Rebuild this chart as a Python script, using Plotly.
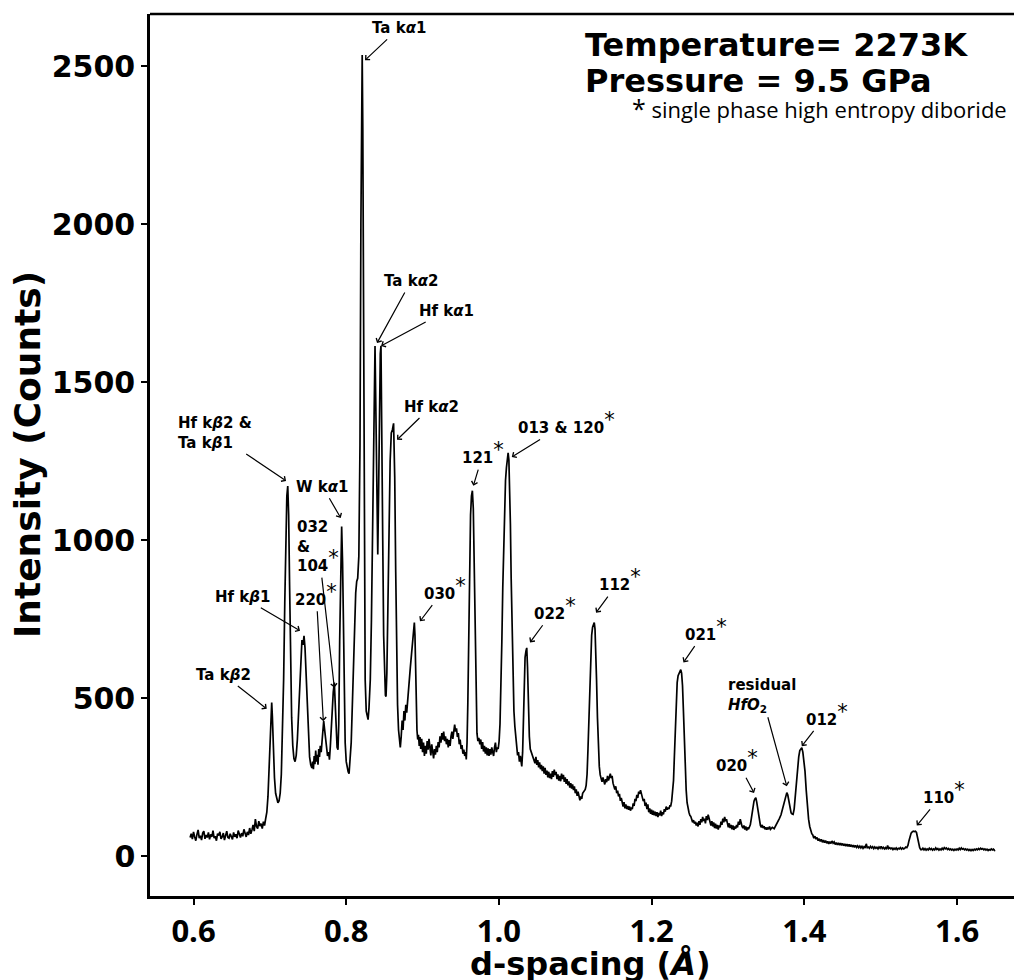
import plotly.graph_objects as go

# ---------------- data (d-spacing in Å, intensity in counts) ----------------
seg_low_baseline = [
    (0.5955, 60), (0.5970, 72), (0.5985, 55), (0.6000, 78), (0.6015, 62), (0.6030, 50), (0.6045, 70), (0.6060, 84),
    (0.6075, 58), (0.6090, 66), (0.6105, 52), (0.6120, 74), (0.6135, 80), (0.6150, 56), (0.6165, 68), (0.6180, 60),
    (0.6195, 76), (0.6210, 54), (0.6225, 70), (0.6240, 62), (0.6255, 82), (0.6270, 58), (0.6285, 64), (0.6300, 50),
    (0.6315, 72), (0.6330, 66), (0.6345, 78), (0.6360, 56), (0.6375, 62), (0.6390, 74), (0.6405, 52), (0.6420, 68),
    (0.6435, 80), (0.6450, 60), (0.6465, 58), (0.6480, 72), (0.6495, 64), (0.6510, 54), (0.6525, 76), (0.6540, 62),
    (0.6555, 70), (0.6570, 58), (0.6585, 82), (0.6600, 66), (0.6615, 60), (0.6630, 74), (0.6645, 64), (0.6660, 86),
    (0.6675, 70), (0.6690, 62), (0.6705, 78), (0.6720, 68), (0.6735, 90), (0.6750, 72), (0.6765, 84), (0.6780, 100),
    (0.6795, 80), (0.6810, 118), (0.6825, 95), (0.6840, 88), (0.6855, 112), (0.6870, 96), (0.6885, 104), (0.6900, 88),
    (0.6915, 110), (0.6930, 98), (0.6945, 120),
]
seg_kbeta = [
    (0.6960, 140), (0.6975, 190), (0.6990, 280), (0.7005, 390), (0.7015, 455), (0.7024, 487), (0.7033, 440), (0.7045, 340),
    (0.7060, 250), (0.7075, 200), (0.7090, 178), (0.7105, 170), (0.7120, 176), (0.7135, 200), (0.7150, 260), (0.7165, 380),
    (0.7180, 560), (0.7195, 800), (0.7210, 1020), (0.7222, 1140), (0.7234, 1172), (0.7246, 1080), (0.7258, 860), (0.7270, 620),
    (0.7285, 440), (0.7300, 350), (0.7315, 310), (0.7330, 300), (0.7345, 320), (0.7360, 370), (0.7375, 450), (0.7390, 560),
    (0.7405, 640), (0.7420, 685), (0.7435, 670), (0.7447, 698), (0.7460, 660), (0.7475, 570), (0.7490, 460), (0.7505, 370),
    (0.7520, 315), (0.7535, 290), (0.7550, 280), (0.7560, 300), (0.7570, 276), (0.7580, 318), (0.7590, 292), (0.7600, 335),
    (0.7610, 300), (0.7620, 322), (0.7630, 290), (0.7640, 340), (0.7650, 315), (0.7660, 350), (0.7672, 330), (0.7685, 370),
    (0.7695, 400), (0.7705, 428), (0.7715, 405), (0.7725, 380), (0.7740, 345), (0.7755, 318), (0.7770, 330),
]
seg_kalpha = [
    (0.7780, 306), (0.7792, 350), (0.7805, 420), (0.7818, 480), (0.7830, 520), (0.7844, 550), (0.7856, 470), (0.7868, 380),
    (0.7880, 345), (0.7892, 338), (0.7902, 420), (0.7914, 680), (0.7926, 920), (0.7940, 1044), (0.7952, 930), (0.7963, 700),
    (0.7974, 480), (0.7986, 360), (0.8000, 300), (0.8013, 280), (0.8025, 268), (0.8037, 262), (0.8050, 300), (0.8065, 360),
    (0.8080, 480), (0.8093, 600), (0.8108, 720), (0.8124, 834), (0.8137, 870), (0.8150, 880), (0.8165, 950), (0.8180, 1300),
    (0.8192, 2000), (0.8202, 2480), (0.8209, 2535), (0.8217, 2300), (0.8226, 1600), (0.8236, 900), (0.8248, 560), (0.8262, 460),
    (0.8276, 440), (0.8286, 433), (0.8298, 470), (0.8315, 560), (0.8330, 750), (0.8345, 1000), (0.8358, 1300), (0.8368, 1550),
    (0.8377, 1615), (0.8386, 1450), (0.8398, 1150), (0.8413, 955), (0.8424, 1150), (0.8436, 1450), (0.8446, 1590),
    (0.8455, 1615), (0.8466, 1400), (0.8478, 1000), (0.8490, 700), (0.8503, 560), (0.8513, 510), (0.8521, 506), (0.8532, 580),
    (0.8545, 780), (0.8560, 1050), (0.8575, 1250), (0.8590, 1340), (0.8605, 1350), (0.8620, 1370), (0.8635, 1200), (0.8648, 900),
    (0.8660, 650), (0.8672, 480), (0.8685, 400), (0.8697, 360), (0.8708, 345), (0.8720, 380), (0.8732, 430), (0.8744, 400),
    (0.8756, 460), (0.8768, 430), (0.8780, 480), (0.8792, 455), (0.8804, 500), (0.8816, 520), (0.8828, 560), (0.8840, 600),
    (0.8855, 640), (0.8868, 670), (0.8880, 700), (0.8892, 740), (0.8900, 700), (0.8908, 600), (0.8916, 470), (0.8926, 400),
]
seg_mid = [
    (0.8936, 370), (0.8946, 385), (0.8956, 350), (0.8966, 378), (0.8976, 340), (0.8988, 372), (0.9000, 330), (0.9012, 360),
    (0.9024, 318), (0.9036, 350), (0.9048, 325), (0.9060, 365), (0.9072, 338), (0.9084, 372), (0.9096, 345), (0.9108, 320),
    (0.9120, 355), (0.9132, 330), (0.9144, 310), (0.9156, 340), (0.9168, 322), (0.9180, 350), (0.9192, 330), (0.9204, 362),
    (0.9216, 345), (0.9228, 380), (0.9240, 360), (0.9252, 390), (0.9264, 370), (0.9276, 395), (0.9288, 365), (0.9300, 380),
    (0.9312, 355), (0.9324, 372), (0.9336, 345), (0.9348, 368), (0.9360, 350), (0.9372, 380), (0.9384, 395), (0.9396, 372),
    (0.9408, 400), (0.9420, 417), (0.9432, 395), (0.9444, 405), (0.9456, 378), (0.9468, 390), (0.9480, 355), (0.9492, 370),
    (0.9504, 340), (0.9516, 352), (0.9528, 325), (0.9540, 338), (0.9552, 318), (0.9564, 330), (0.9572, 307), (0.9582, 360),
    (0.9592, 480), (0.9604, 700), (0.9616, 920), (0.9628, 1080), (0.9640, 1140), (0.9652, 1157), (0.9664, 1100), (0.9676, 900),
    (0.9688, 640), (0.9700, 460), (0.9712, 390), (0.9724, 365), (0.9736, 375), (0.9750, 355), (0.9762, 370), (0.9774, 340),
    (0.9786, 362), (0.9798, 332), (0.9810, 350), (0.9822, 325), (0.9834, 345), (0.9846, 320), (0.9858, 342), (0.9870, 318),
    (0.9882, 340), (0.9894, 322), (0.9906, 345), (0.9918, 330), (0.9930, 318), (0.9942, 345), (0.9954, 360), (0.9966, 330),
    (0.9976, 345), (0.9990, 340), (1.0002, 365), (1.0014, 420), (1.0026, 520), (1.0038, 680), (1.0050, 850), (1.0062, 1000),
    (1.0074, 1120), (1.0086, 1190), (1.0098, 1230), (1.0110, 1265), (1.0120, 1277), (1.0130, 1255), (1.0140, 1180), (1.0150, 1050),
    (1.0160, 880), (1.0172, 700), (1.0184, 560), (1.0196, 460), (1.0208, 412), (1.0220, 370), (1.0232, 340), (1.0244, 320),
    (1.0256, 330), (1.0268, 300), (1.0280, 318), (1.0290, 295), (1.0299, 285), (1.0310, 330), (1.0320, 420), (1.0330, 540),
    (1.0342, 630), (1.0354, 650), (1.0364, 660), (1.0374, 600), (1.0386, 470), (1.0398, 380), (1.0410, 340), (1.0422, 330),
    (1.0434, 320), (1.0447, 316),
]
seg_decline = [
    (1.0460, 305), (1.0472, 295), (1.0484, 315), (1.0496, 290), (1.0508, 305), (1.0520, 282), (1.0532, 298), (1.0544, 276),
    (1.0556, 290), (1.0568, 270), (1.0580, 285), (1.0592, 262), (1.0604, 280), (1.0616, 258), (1.0628, 272), (1.0640, 250),
    (1.0652, 268), (1.0664, 248), (1.0676, 262), (1.0688, 245), (1.0700, 270), (1.0712, 252), (1.0724, 275), (1.0736, 258),
    (1.0748, 268), (1.0760, 245), (1.0772, 260), (1.0784, 240), (1.0796, 255), (1.0808, 238), (1.0820, 262), (1.0832, 245),
    (1.0844, 258), (1.0856, 236), (1.0868, 250), (1.0880, 230), (1.0892, 245), (1.0904, 225), (1.0916, 238), (1.0928, 218),
    (1.0940, 232), (1.0952, 215), (1.0964, 228), (1.0976, 210), (1.0988, 222), (1.1000, 200), (1.1012, 212), (1.1024, 192),
    (1.1036, 205), (1.1048, 190), (1.1060, 178), (1.1072, 190), (1.1084, 182), (1.1096, 200), (1.1108, 205), (1.1120, 210),
    (1.1130, 212), (1.1142, 225), (1.1154, 260), (1.1166, 340), (1.1178, 450), (1.1190, 560), (1.1202, 650), (1.1214, 700),
    (1.1226, 725), (1.1238, 738), (1.1248, 740), (1.1258, 720), (1.1268, 660), (1.1278, 560), (1.1290, 440), (1.1302, 340),
    (1.1314, 285), (1.1326, 258), (1.1338, 245), (1.1350, 236), (1.1362, 250), (1.1374, 240), (1.1386, 228), (1.1398, 245),
    (1.1410, 235), (1.1422, 255), (1.1434, 240), (1.1446, 250), (1.1458, 262), (1.1470, 248), (1.1482, 255), (1.1494, 232),
    (1.1506, 225), (1.1518, 212), (1.1530, 222), (1.1542, 200), (1.1554, 208), (1.1566, 190), (1.1578, 198), (1.1590, 176),
    (1.1602, 185), (1.1614, 165), (1.1626, 158), (1.1638, 172), (1.1650, 152), (1.1662, 165), (1.1674, 150), (1.1686, 160),
    (1.1698, 148), (1.1710, 158), (1.1722, 145), (1.1734, 155), (1.1746, 150), (1.1758, 168), (1.1770, 160), (1.1782, 182),
    (1.1794, 175), (1.1806, 195), (1.1818, 185), (1.1830, 205), (1.1842, 198), (1.1854, 210), (1.1866, 200), (1.1878, 188),
    (1.1890, 175), (1.1902, 182), (1.1914, 160), (1.1926, 170), (1.1938, 150), (1.1950, 165), (1.1962, 140), (1.1974, 152),
    (1.1986, 135), (1.1998, 148), (1.2010, 132), (1.2022, 145), (1.2034, 130), (1.2046, 142), (1.2058, 128), (1.2070, 140),
    (1.2082, 125), (1.2094, 138), (1.2106, 130), (1.2118, 145), (1.2130, 128), (1.2142, 140), (1.2154, 133), (1.2166, 150),
    (1.2178, 142), (1.2190, 158), (1.2202, 148), (1.2214, 155), (1.2226, 150), (1.2238, 160),
]
seg_high = [
    (1.2250, 160), (1.2262, 175), (1.2274, 200), (1.2286, 240), (1.2298, 320), (1.2310, 420), (1.2322, 500), (1.2334, 550),
    (1.2346, 572), (1.2358, 580), (1.2370, 586), (1.2381, 591), (1.2392, 580), (1.2404, 540), (1.2416, 460), (1.2428, 360),
    (1.2440, 270), (1.2452, 210), (1.2464, 170), (1.2476, 150), (1.2488, 140), (1.2500, 130), (1.2512, 127), (1.2524, 118),
    (1.2536, 108), (1.2548, 115), (1.2560, 104), (1.2572, 110), (1.2584, 98), (1.2596, 107), (1.2608, 95), (1.2620, 112),
    (1.2632, 100), (1.2644, 118), (1.2656, 108), (1.2668, 125), (1.2680, 112), (1.2692, 120), (1.2704, 105), (1.2716, 128),
    (1.2728, 115), (1.2740, 132), (1.2752, 118), (1.2764, 110), (1.2776, 98), (1.2788, 112), (1.2800, 95), (1.2812, 108),
    (1.2824, 90), (1.2836, 104), (1.2848, 88), (1.2860, 100), (1.2872, 85), (1.2884, 98), (1.2896, 92), (1.2908, 110),
    (1.2920, 100), (1.2932, 120), (1.2944, 108), (1.2956, 125), (1.2968, 112), (1.2980, 118), (1.2992, 100), (1.3004, 92),
    (1.3016, 105), (1.3028, 90), (1.3040, 100), (1.3052, 86), (1.3064, 98), (1.3076, 84), (1.3088, 95), (1.3100, 88),
    (1.3112, 100), (1.3124, 92), (1.3136, 110), (1.3148, 100), (1.3160, 118), (1.3172, 105), (1.3184, 95), (1.3196, 90),
    (1.3208, 98), (1.3220, 85), (1.3232, 95), (1.3244, 82), (1.3256, 92), (1.3268, 86), (1.3280, 92), (1.3292, 100),
    (1.3304, 118), (1.3316, 140), (1.3328, 160), (1.3340, 175), (1.3352, 182), (1.3364, 186), (1.3376, 172), (1.3388, 150),
    (1.3400, 125), (1.3412, 105), (1.3424, 98), (1.3436, 92), (1.3448, 100), (1.3460, 90), (1.3472, 96), (1.3484, 86),
    (1.3496, 92), (1.3508, 85), (1.3520, 90), (1.3532, 88), (1.3544, 95), (1.3556, 86), (1.3580, 92), (1.3604, 88),
    (1.3628, 98), (1.3650, 108), (1.3672, 120), (1.3694, 132), (1.3712, 150), (1.3730, 170), (1.3748, 190), (1.3760, 198),
    (1.3770, 202), (1.3782, 195), (1.3796, 175), (1.3810, 150), (1.3826, 138), (1.3840, 134), (1.3852, 133), (1.3866, 150),
    (1.3880, 190), (1.3894, 235), (1.3910, 280), (1.3926, 315), (1.3940, 335), (1.3954, 342), (1.3966, 344), (1.3980, 330),
    (1.3994, 305), (1.4008, 270), (1.4024, 210), (1.4040, 155), (1.4055, 118), (1.4070, 95), (1.4085, 80), (1.4097, 72),
]
seg_tail = [
    (1.4110, 68), (1.4124, 58), (1.4138, 64), (1.4152, 55), (1.4166, 60), (1.4180, 50), (1.4194, 56), (1.4208, 48),
    (1.4222, 54), (1.4236, 45), (1.4250, 52), (1.4264, 44), (1.4278, 50), (1.4292, 42), (1.4306, 48), (1.4320, 40),
    (1.4334, 47), (1.4348, 41), (1.4362, 49), (1.4376, 42), (1.4390, 46), (1.4404, 38), (1.4418, 44), (1.4432, 37),
    (1.4446, 43), (1.4460, 36), (1.4474, 42), (1.4488, 35), (1.4502, 41), (1.4516, 34), (1.4530, 40), (1.4544, 33),
    (1.4558, 39), (1.4572, 32), (1.4586, 38), (1.4600, 31), (1.4614, 37), (1.4628, 30), (1.4642, 36), (1.4656, 29),
    (1.4670, 35), (1.4684, 29), (1.4698, 34), (1.4712, 28), (1.4726, 33), (1.4740, 27), (1.4754, 32), (1.4768, 26),
    (1.4782, 31), (1.4796, 27), (1.4810, 40), (1.4824, 28), (1.4838, 30), (1.4852, 26), (1.4866, 32), (1.4880, 27),
    (1.4894, 31), (1.4908, 25), (1.4922, 30), (1.4936, 26), (1.4950, 29), (1.4964, 24), (1.4978, 30), (1.4992, 26),
    (1.5006, 32), (1.5020, 25), (1.5034, 29), (1.5048, 24), (1.5062, 28), (1.5076, 23), (1.5090, 35), (1.5104, 25),
    (1.5118, 28), (1.5132, 24), (1.5146, 27), (1.5160, 22), (1.5174, 26), (1.5188, 23), (1.5202, 27), (1.5216, 22),
    (1.5230, 26), (1.5244, 24), (1.5258, 28), (1.5272, 23), (1.5286, 27), (1.5300, 24), (1.5314, 26), (1.5328, 30),
    (1.5342, 28), (1.5356, 35), (1.5370, 50), (1.5384, 65), (1.5398, 74), (1.5412, 78), (1.5426, 80), (1.5440, 79),
    (1.5454, 80), (1.5468, 76), (1.5482, 60), (1.5496, 40), (1.5510, 28), (1.5524, 22), (1.5538, 22), (1.5552, 26),
    (1.5566, 21), (1.5580, 25), (1.5594, 20), (1.5608, 24), (1.5622, 21), (1.5636, 26), (1.5650, 22), (1.5664, 25),
    (1.5678, 20), (1.5692, 24), (1.5706, 21), (1.5720, 27), (1.5734, 22), (1.5748, 25), (1.5762, 20), (1.5776, 24),
    (1.5790, 21), (1.5804, 26), (1.5818, 22), (1.5832, 28), (1.5846, 24), (1.5860, 27), (1.5874, 22), (1.5888, 25),
    (1.5902, 21), (1.5916, 24), (1.5930, 20), (1.5944, 23), (1.5958, 19), (1.5972, 23), (1.5986, 20), (1.6000, 24),
    (1.6014, 21), (1.6028, 26), (1.6042, 22), (1.6056, 27), (1.6070, 23), (1.6084, 25), (1.6098, 21), (1.6112, 24),
    (1.6126, 20), (1.6140, 23), (1.6154, 19), (1.6168, 22), (1.6182, 18), (1.6196, 22), (1.6210, 19), (1.6224, 23),
    (1.6238, 20), (1.6252, 24), (1.6266, 21), (1.6280, 25), (1.6294, 22), (1.6308, 26), (1.6322, 23), (1.6336, 25),
    (1.6350, 21), (1.6364, 24), (1.6378, 20), (1.6392, 23), (1.6406, 19), (1.6420, 22), (1.6434, 20), (1.6448, 24),
    (1.6462, 21), (1.6476, 23), (1.6490, 19), (1.6500, 20),
]

y_ticks = [0, 500, 1000, 1500, 2000, 2500]
x_ticks = [0.6, 0.8, 1.0, 1.2, 1.4, 1.6]

STAR = '<sup><span style="font-size:21px;font-weight:normal;color:black">*</span></sup>'
# peak labels: text, arrow tip (d, intensity)
peak_labels = [
    ("Ta k<i>α</i>1", 0.8246, 2519),
    ("Ta k<i>α</i>2", 0.8403, 1624),
    ("Hf k<i>α</i>1", 0.8456, 1615),
    ("Hf k<i>α</i>2", 0.8665, 1318),
    ("Hf k<i>β</i>2 &amp;<br>Ta k<i>β</i>1", 0.7212, 1188),
    ("W k<i>α</i>1", 0.7928, 1071),
    ("032<br>&amp;<br>104" + STAR, 0.7844, 534),
    ("220" + STAR, 0.7700, 428),
    ("Hf k<i>β</i>1", 0.7395, 714),
    ("Ta k<i>β</i>2", 0.6959, 467),
    ("030" + STAR, 0.8966, 744),
    ("121" + STAR, 0.9665, 1173),
    ("013 &amp; 120" + STAR, 1.0168, 1264),
    ("022" + STAR, 1.0407, 677),
    ("112" + STAR, 1.1272, 771),
    ("021" + STAR, 1.2416, 614),
    ("residual<br><i>HfO</i><sub>2</sub>", 1.3770, 222),
    ("020" + STAR, 1.3341, 201),
    ("012" + STAR, 1.3966, 349),
    ("110" + STAR, 1.5472, 98),
]
# label offsets (pixels, text centre relative to arrow tip) and alignment
label_offsets = [
    (34, -32, "center"), (34, -62, "center"), (65, -35, "center"), (34, -33, "center"),
    (-71, -48, "left"), (-18, -31, "center"), (-16, -141, "left"), (-7, -127, "center"),
    (-58, -34, "center"), (-43, -34, "center"), (25, -33, "center"), (10, -33, "center"),
    (55, -34, "center"), (25, -34, "center"), (24, -33, "center"), (23, -33, "center"),
    (-25, -91, "left"), (-17, -32, "center"), (25, -32, "center"), (27, -33, "center"),
]

# ---------------- figure ----------------
segments = [seg_low_baseline, seg_kbeta, seg_kalpha, seg_mid, seg_decline, seg_high, seg_tail]
d_spacing = [p[0] for seg in segments for p in seg]
intensity = [p[1] for seg in segments for p in seg]

fig = go.Figure()
fig.add_trace(go.Scatter(x=d_spacing, y=intensity, mode="lines",
                         line=dict(color="black", width=1.7), showlegend=False,
                         hoverinfo="skip"))

ann_font = dict(family="DejaVu Sans", size=15, color="black", weight="bold")
annotations = []
for (txt, xd, yi), (ax, ay, al) in zip(peak_labels, label_offsets):
    annotations.append(dict(x=xd, y=yi, xref="x", yref="y", text=txt, showarrow=True,
                            ax=ax, ay=ay, arrowhead=4, arrowsize=1, arrowwidth=1.2,
                            arrowcolor="black", standoff=0, startstandoff=1,
                            align=al, font=ann_font))

# condition / legend texts
annotations += [
    dict(x=0.4966, y=0.965, xref="paper", yref="paper", xanchor="left", yanchor="middle",
         text="Temperature= 2273K", showarrow=False,
         font=dict(family="DejaVu Sans", size=32, color="black", weight="bold")),
    dict(x=0.4966, y=0.9235, xref="paper", yref="paper", xanchor="left", yanchor="middle",
         text="Pressure = 9.5 GPa", showarrow=False,
         font=dict(family="DejaVu Sans", size=32, color="black", weight="bold")),
    dict(x=0.5505, y=0.8935, xref="paper", yref="paper", xanchor="left", yanchor="middle",
         text='<span style="font-size:25px">*</span> single phase high entropy diboride', showarrow=False,
         font=dict(family="Open Sans", size=22, color="black")),
    # axis titles
    dict(x=-0.141, y=0.5, xref="paper", yref="paper", xanchor="center", yanchor="middle",
         text="Intensity (Counts)", textangle=-90, showarrow=False,
         font=dict(family="DejaVu Sans", size=36, color="black", weight="bold")),
    dict(x=0.505, y=-0.077, xref="paper", yref="paper", xanchor="center", yanchor="middle",
         text="d-spacing (<i>Å</i>)", showarrow=False,
         font=dict(family="DejaVu Sans", size=32, color="black", weight="bold")),
]

# the page adds an 8 px body margin; the figure is sized so that the picture matches
fig.update_layout(
    width=1014, height=972,
    margin=dict(l=142, r=0, t=6, b=84),
    paper_bgcolor="white", plot_bgcolor="white",
    annotations=annotations,
    shapes=[dict(type="line", xref="paper", yref="paper", x0=0, x1=1, y0=1, y1=1,
                 line=dict(color="black", width=2.5))],
)
fig.update_xaxes(range=[0.543, 1.685], tickvals=x_ticks, ticktext=[f"{v:.1f}" for v in x_ticks],
                 showline=True, linecolor="black", linewidth=2.5, mirror=False,
                 ticks="outside", ticklen=6, tickwidth=1.5, tickcolor="black",
                 showgrid=False, zeroline=False,
                 tickfont=dict(family="Open Sans", size=31, color="black", weight="bold"))
fig.update_yaxes(range=[-125, 2665], tickvals=y_ticks, ticktext=[str(v) for v in y_ticks],
                 showline=True, linecolor="black", linewidth=2.5, mirror=False,
                 ticks="outside", ticklen=6, tickwidth=1.5, tickcolor="black",
                 showgrid=False, zeroline=False,
                 tickfont=dict(family="DejaVu Sans", size=30, color="black", weight="bold"))

fig.write_html("out.html")
